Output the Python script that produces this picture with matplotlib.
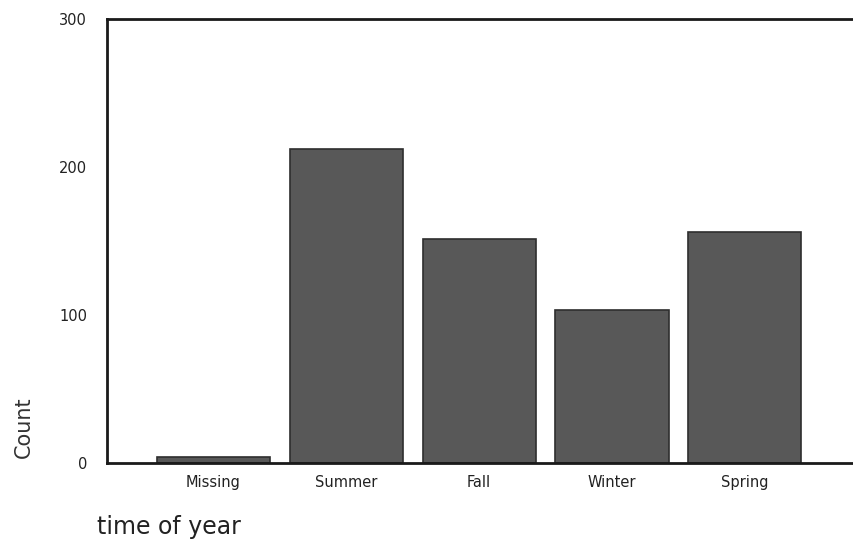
import matplotlib.pyplot as plt
import numpy as np

# time of year counts
seasons = ["Missing", "Summer", "Fall", "Winter", "Spring"]
counts = [4, 212, 151, 103, 156]
y_ticks = [0, 100, 200, 300]

fig = plt.figure(figsize=(8.54, 5.41), dpi=100)
ax = fig.add_axes([0.125, 0.145, 0.875, 0.82])

x_pos = np.arange(len(seasons))
ax.bar(x_pos, counts, width=0.85, color="#585858", edgecolor="#2e2e2e", linewidth=1.2)

ax.set_xlim(-0.8, 4.82)
ax.set_ylim(0, 300)
ax.set_xticks(x_pos)
ax.set_xticklabels(seasons, fontsize=10.5, color="#222222")
ax.set_yticks(y_ticks)
ax.set_yticklabels([str(t) for t in y_ticks], fontsize=10.5, color="#222222")
ax.tick_params(axis="x", length=0, pad=9)
ax.tick_params(axis="y", length=0, pad=14)

for side in ["left", "top", "bottom"]:
    ax.spines[side].set_linewidth(2)
    ax.spines[side].set_color("#1a1a1a")
ax.spines["right"].set_visible(False)

fig.text(0.028, 0.21, "Count", rotation=90, fontsize=15, color="#333333", ha="center", va="center")
fig.text(0.113, 0.025, "time of year", fontsize=17, color="#222222", ha="left", va="center")

fig.savefig("out.png", dpi=100)
